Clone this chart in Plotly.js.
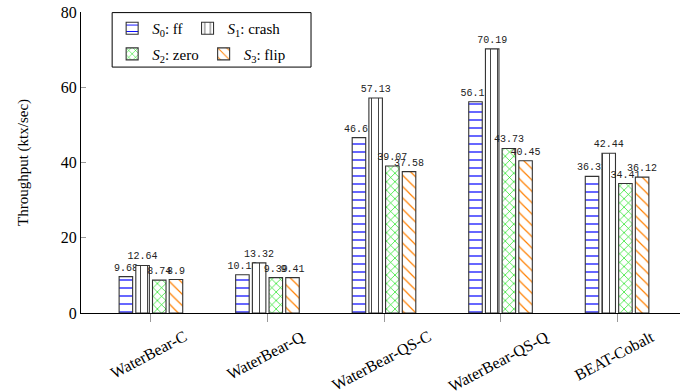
<!DOCTYPE html>
<html><head><meta charset="utf-8">
<script src="https://cdn.plot.ly/plotly-3.0.1.min.js"></script>
<style>html,body{margin:0;padding:0;background:#fff}#c{width:682px;height:391px}</style>
</head><body><div id="c"></div>
<script>
const categories = ["WaterBear-C", "WaterBear-Q", "WaterBear-QS-C", "WaterBear-QS-Q", "BEAT-Cobalt"];
const s0 = [9.68, 10.18, 46.61, 56.15, 36.31];
const s1 = [12.64, 13.32, 57.13, 70.19, 42.44];
const s2 = [8.74, 9.39, 39.07, 43.73, 34.41];
const s3 = [8.9, 9.41, 37.58, 40.45, 36.12];
const names = ["<i>S</i><sub>0</sub>: ff", "<i>S</i><sub>1</sub>: crash", "<i>S</i><sub>2</sub>: zero", "<i>S</i><sub>3</sub>: flip"];
const yTicks = [0, 20, 40, 60, 80];

const styles = [
  {shape: "-", fg: "#0000ff", size: 8, sol: 0.15},
  {shape: "|", fg: "#222222", size: 7, sol: 0.12},
  {shape: "x", fg: "#00e000", size: 6, sol: 0.2},
  {shape: "\\", fg: "#ff8000", size: 8, sol: 0.15}
];
const legendOf = ["legend", "legend", "legend2", "legend2"];
const xIdx = categories.map((_, i) => i);
const series = [s0, s1, s2, s3];
const traces = series.map((vals, k) => ({
  type: "bar",
  x: xIdx,
  y: vals,
  name: names[k],
  legend: legendOf[k],
  text: vals.map(v => String(v)),
  textposition: "outside",
  constraintext: "none",
  cliponaxis: false,
  textfont: {family: "Liberation Mono, DejaVu Sans Mono, monospace", size: 10, color: "#222"},
  marker: {
    color: "#ffffff",
    line: {color: "#333333", width: 1.1},
    pattern: {shape: styles[k].shape, fgcolor: styles[k].fg, bgcolor: "#ffffff", size: styles[k].size, solidity: styles[k].sol, fillmode: "replace"}
  }
}));

const legendCommon = {
  xanchor: "left", yanchor: "top",
  orientation: "h",
  borderwidth: 0,
  bgcolor: "rgba(0,0,0,0)",
  font: {size: 15, family: "Liberation Serif, serif"},
  itemwidth: 30
};

const catLabels = categories.map((c, i) => ({
  text: c, x: i - 0.02, xref: "x", y: -0.04, yref: "paper",
  xanchor: "center", yanchor: "top", showarrow: false, textangle: -28,
  font: {size: 16, family: "Liberation Serif, serif", color: "#000"}
}));

const layout = {
  width: 682, height: 391,
  margin: {l: 81, r: 2, t: 12, b: 78},
  paper_bgcolor: "#fff", plot_bgcolor: "#fff",
  barmode: "group",
  bargap: 0.427,
  bargroupgap: 0.19,
  font: {family: "Liberation Serif, DejaVu Serif, serif", color: "#000"},
  xaxis: {
    range: [-0.6, 4.54],
    tickvals: xIdx,
    showticklabels: false,
    ticks: "outside", ticklen: 8, tickcolor: "#999", tickwidth: 1,
    showline: true, linecolor: "#000", linewidth: 1,
    showgrid: false, zeroline: false
  },
  yaxis: {
    range: [0, 80],
    tickvals: yTicks,
    ticks: "inside", ticklen: 5, tickcolor: "#999",
    showline: true, linecolor: "#000", linewidth: 1,
    showgrid: false, zeroline: false,
    tickfont: {size: 16, family: "Liberation Serif, serif"},
    title: {text: "Throughput (ktx/sec)", font: {size: 15, family: "Liberation Serif, serif"}, standoff: 28}
  },
  legend: Object.assign({}, legendCommon, {x: 0.052, y: 1.0}),
  legend2: Object.assign({}, legendCommon, {x: 0.052, y: 0.915}),
  annotations: catLabels,
  shapes: [{
    type: "rect", xref: "paper", yref: "paper",
    x0: 0.052, x1: 0.384, y0: 0.817, y1: 0.998,
    line: {color: "#000", width: 1}, fillcolor: "rgba(0,0,0,0)", layer: "above"
  }],
  showlegend: true
};
Plotly.newPlot("c", traces, layout, {displayModeBar: false, staticPlot: true});
</script></body></html>
